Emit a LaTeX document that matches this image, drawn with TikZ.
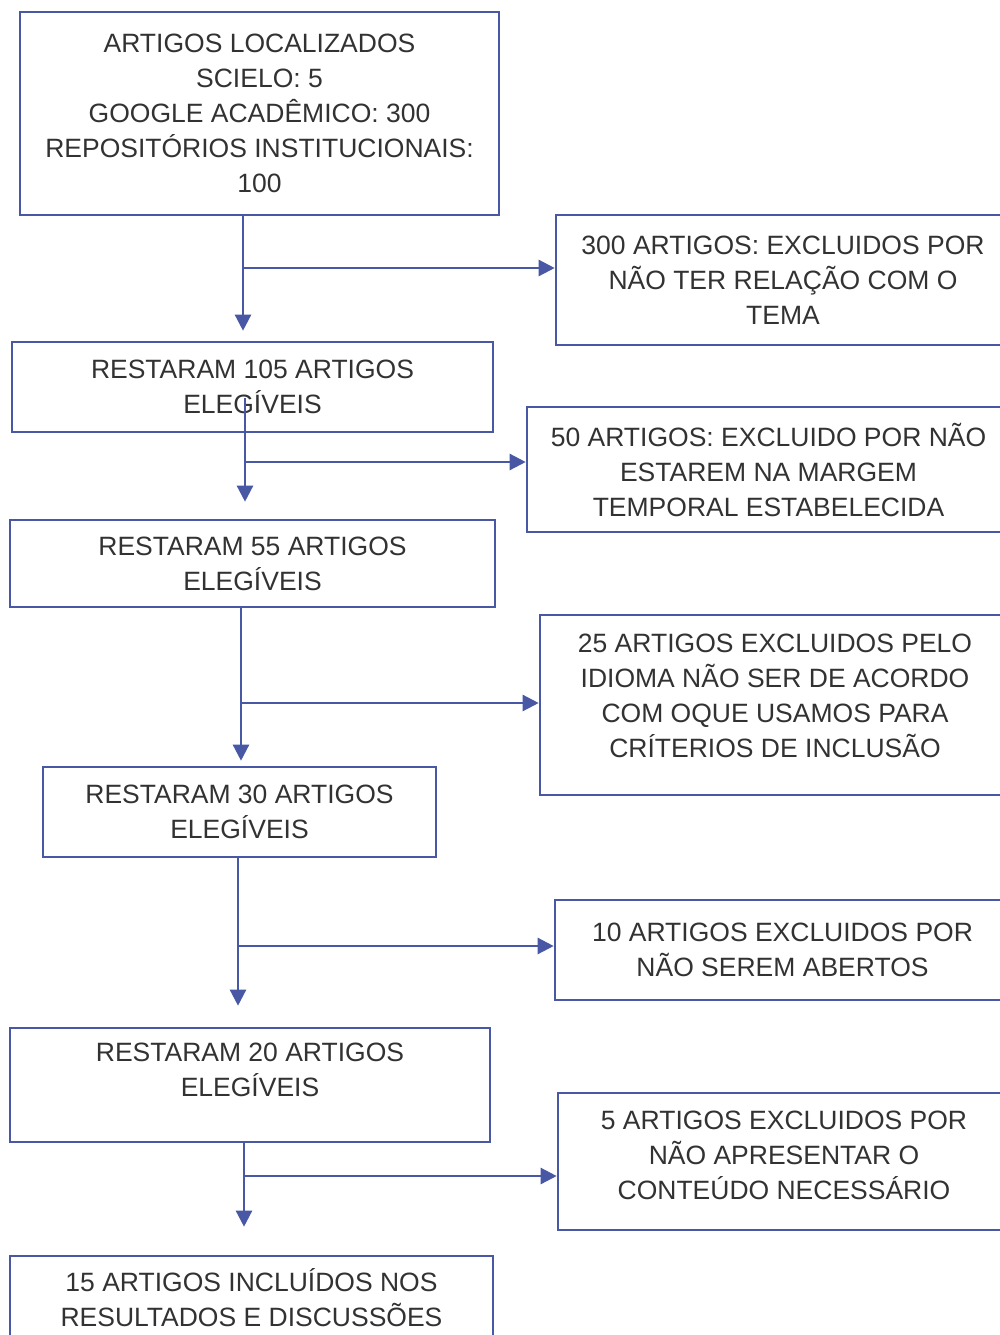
\documentclass[tikz,border=0pt]{standalone}
\usepackage{fontspec}
\setmainfont{Liberation Sans}
\usetikzlibrary{arrows.meta}
\definecolor{linha}{RGB}{72,88,165}
\definecolor{texto}{RGB}{50,50,50}
\tikzset{
  caixa/.style={rectangle,draw=linha,line width=2.6pt,text=texto,align=center,
    inner sep=0pt,font=\fontsize{26.5}{35}\selectfont},
  fluxo/.style={draw=linha,line width=2.4pt,-{Triangle[length=16pt,width=16pt]}}
}
\begin{document}
\begin{tikzpicture}[x=1pt,y=-1pt]
  \useasboundingbox (0,0) rectangle (999,1335);

  % coluna da esquerda
  \node[caixa,minimum width=479pt,minimum height=203pt] (r1) at (259.5,113.5) {ARTIGOS LOCALIZADOS\\SCIELO: 5\\GOOGLE ACADÊMICO: 300\\REPOSITÓRIOS INSTITUCIONAIS:\\100};
  \node[caixa,minimum width=481pt,minimum height=90pt] (r2) at (252.5,387) {RESTARAM 105 ARTIGOS\\ELEGÍVEIS};
  \node[caixa,minimum width=485pt,minimum height=87pt] (r3) at (252.5,563.5) {RESTARAM 55 ARTIGOS\\ELEGÍVEIS};
  \node[caixa,minimum width=393pt,minimum height=90pt] (r4) at (239.5,812) {RESTARAM 30 ARTIGOS\\ELEGÍVEIS};
  \node[caixa,minimum width=480pt,minimum height=114pt] (r5) at (250,1085) {RESTARAM 20 ARTIGOS\\ELEGÍVEIS\\[-5pt]~};
  \node[caixa,minimum width=483pt,minimum height=94pt] (r6) at (251.5,1303) {15 ARTIGOS INCLUÍDOS NOS\\RESULTADOS E DISCUSSÕES\\[-23pt]~};

  % coluna da direita
  \node[caixa,minimum width=454pt,minimum height=130pt] (e1) at (783,280) {300 ARTIGOS: EXCLUIDOS POR\\NÃO TER RELAÇÃO COM O\\TEMA};
  \node[caixa,minimum width=483pt,minimum height=125pt] (e2) at (768.5,469.5) {50 ARTIGOS: EXCLUIDO POR NÃO\\ESTAREM NA MARGEM\\TEMPORAL ESTABELECIDA};
  \node[caixa,minimum width=470pt,minimum height=180pt] (e3) at (775,705) {25 ARTIGOS EXCLUIDOS PELO\\IDIOMA NÃO SER DE ACORDO\\COM OQUE USAMOS PARA\\CRÍTERIOS DE INCLUSÃO\\[-16pt]~};
  \node[caixa,minimum width=455pt,minimum height=100pt] (e4) at (782.5,950) {10 ARTIGOS EXCLUIDOS POR\\NÃO SEREM ABERTOS};
  \node[caixa,minimum width=452pt,minimum height=137pt] (e5) at (784,1161.5) {5 ARTIGOS EXCLUIDOS POR\\NÃO APRESENTAR O\\CONTEÚDO NECESSÁRIO\\[-22pt]~};

  \coordinate (j1) at (243,268);
  \coordinate (s2) at (245,398);
  \coordinate (j2) at (245,462);
  \coordinate (j3) at (241,703);
  \coordinate (j4) at (238,946);
  \coordinate (j5) at (244,1176);

  \draw[fluxo,shorten >=10pt] (r1.south -| j1) -- (r2.north -| j1);
  \draw[fluxo,shorten >=17pt] (s2) -- (r3.north -| s2);
  \draw[fluxo,shorten >=5pt] (r3.south -| j3) -- (r4.north -| j3);
  \draw[fluxo,shorten >=21pt] (r4.south -| j4) -- (r5.north -| j4);
  \draw[fluxo,shorten >=28pt] (r5.south -| j5) -- (r6.north -| j5);

  \draw[fluxo] (j1) -- (j1 -| e1.west);
  \draw[fluxo] (j2) -- (j2 -| e2.west);
  \draw[fluxo] (j3) -- (j3 -| e3.west);
  \draw[fluxo] (j4) -- (j4 -| e4.west);
  \draw[fluxo] (j5) -- (j5 -| e5.west);
\end{tikzpicture}
\end{document}
